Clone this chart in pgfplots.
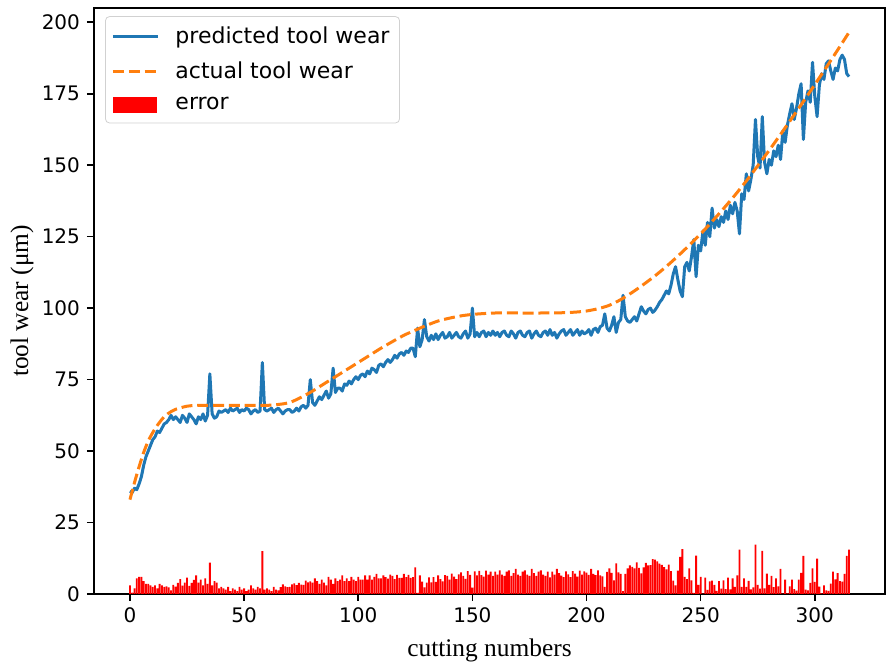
\documentclass[border=0pt]{standalone}
\usepackage{pgfplots}
\pgfplotsset{compat=1.18}
\usepackage{pgfplotstable}
\usepackage{fontspec}
\setmainfont{Liberation Serif}
\newfontfamily\dejavu{DejaVu Sans}
\definecolor{tabblue}{HTML}{1F77B4}
\definecolor{taborange}{HTML}{FF7F0E}
\pgfplotstableread{
x pred err
0 36 3
1 35.5 0.5
2 37 2
3 36.5 5.5
4 38.5 6
5 41 6
6 45 4.5
7 48 3.5
8 50 3.5
9 52 3
10 54 2.5
11 55 3
12 57 2
13 56.5 3.5
14 58 3
15 59.5 2.5
16 60 2.7
17 61 2.3
18 62.5 1.3
19 61 3.2
20 62 2.6
21 61 3.9
22 60 5.2
23 62.5 2.9
24 61.5 4
25 60 5.7
26 63 2.8
27 62 3.9
28 61 4.9
29 59.5 6.5
30 62 4
31 61 5
32 63 3
33 60.5 5.5
34 62.5 3.5
35 77 11
36 63 3
37 61.5 4.5
38 62 4
39 64 2
40 63.5 2.5
41 64 2
42 64.5 1.5
43 63.5 2.5
44 65 1
45 64 2
46 64.5 1.5
47 65 1
48 63.5 2.5
49 64.5 1.5
50 64 2
51 65 1
52 64.5 1.5
53 63 3
54 64 2
55 64.5 1.5
56 63.5 2.5
57 64 2
58 81 15
59 64.5 1.5
60 64 2
61 64.5 1.5
62 65 1
63 63.5 2.5
64 64.5 1.5
65 65 1.3
66 64 2.4
67 63 3.4
68 64 2.7
69 64.5 2.4
70 64.5 2.5
71 63.5 3.4
72 64 3.7
73 65 3.1
74 64 3.9
75 65.5 3.3
76 66 3.2
77 65 4.7
78 66 4.1
79 75 4.4
80 67 4
81 66 5.5
82 67.5 4.5
83 69 3.5
84 68 5
85 69.5 4
86 71 3
87 68.5 6
88 70 5
89 79 3.5
90 70.5 5.5
91 72 4.5
92 72 5
93 71 6.5
94 73.5 4.5
95 73 5.5
96 74.5 4.5
97 73.5 6
98 75 5
99 76 4.5
100 75 6
101 76.5 5
102 77 5
103 76 6.5
104 78 5
105 77 6.5
106 79 5
107 78.5 6
108 77.5 7
109 80 5.5
110 80.5 5.5
111 79.5 6.5
112 81 5.9
113 82 5.4
114 81 6.8
115 82 6.3
116 83.5 5.2
117 82.5 6.7
118 84 5.6
119 84.5 5.6
120 83.5 7
121 85 5.9
122 84.5 6.7
123 86 5.6
124 86 5.9
125 83 9.3
126 93 0.4
127 86.5 6.5
128 89 4.3
129 96 2.3
130 90 4
131 88.5 5.8
132 90.5 4.1
133 89 5.9
134 91 4.2
135 89 6.5
136 90.5 5.2
137 91.5 4.4
138 89.5 6.6
139 90 6.3
140 91.5 5
141 89.5 7.1
142 90.5 6.1
143 91.5 5.2
144 90 6.9
145 89.5 7.6
146 91 6.3
147 92 5.3
148 89.5 8
149 91 6.7
150 100 2.2
151 90 7.9
152 91.5 6.5
153 90 8.1
154 91.5 6.6
155 92 6.1
156 90 8.2
157 91.5 6.8
158 90.5 7.8
159 92 6.3
160 90.5 7.8
161 91.5 6.8
162 90 8.3
163 91.5 6.8
164 92 6.3
165 90.5 7.8
166 90 8.3
167 92 6.3
168 91 7.3
169 89.5 8.8
170 91.5 6.8
171 92 6.3
172 90.5 7.8
173 90 8.3
174 91.5 6.8
175 92 6.3
176 89.5 8.8
177 91 7.3
178 92 6.3
179 90.5 7.8
180 90 8.3
181 91.5 6.8
182 92 6.3
183 90.5 7.8
184 92.5 5.8
185 90.5 7.8
186 91.5 6.8
187 89.5 8.8
188 91 7.3
189 92 6.4
190 92.5 5.9
191 90.5 7.9
192 91.5 6.9
193 92.5 5.9
194 90.5 8
195 91.5 7.1
196 92.5 6.1
197 90.5 8.2
198 92 6.8
199 91 7.9
200 91.5 7.5
201 92.5 6.7
202 90.5 8.8
203 92.5 7
204 93 6.6
205 91.5 8.3
206 93.5 6.5
207 94 6.2
208 98 2.5
209 93 7.7
210 92 9
211 94 7.4
212 97 4.8
213 91.5 10.7
214 95 7.6
215 96 7
216 104.5 1
217 97 7
218 95.5 9
219 95 10
220 96 9.5
221 97 9
222 95.5 11.1
223 98 9.1
224 100.5 7.2
225 99 9.3
226 98 10.9
227 99.5 10
228 100 10.1
229 98.5 12.2
230 99.3 12
231 100.5 11.4
232 102 10.6
233 103 10.2
234 104.5 9.4
235 106 8.6
236 105 10.3
237 108 8
238 112 4.7
239 114.5 3
240 110 8.2
241 106 13
242 104 15.7
243 114.5 6
244 116 5.2
245 113 9
246 118 4.8
247 124 0.4
248 111 13.4
249 122 3.2
250 120 6
251 127 0.1
252 122 5.7
253 130 1.4
254 125 4.4
255 135 4.7
256 128 3.2
257 131 1.1
258 128.5 4.5
259 132 1.9
260 130 4.8
261 134 1.7
262 131 5.7
263 136 1.6
264 133 5.5
265 137 2.5
266 134 6.5
267 126 15.5
268 140 2.5
269 138 5.5
270 147 2.5
271 141 4.6
272 145 1.6
273 150 2.3
274 166 17.3
275 153 3.2
276 149 1.9
277 167 15.1
278 151 2
279 147 7.1
280 152 3.2
281 150 6.3
282 155 2.4
283 153 5.5
284 157 2.7
285 152 8.8
286 162 0.1
287 158 5
288 164 0.2
289 168 2.7
290 171.5 5
291 166 1.7
292 170 1.2
293 175 5
294 178.5 7.4
295 159 13.3
296 172 1.5
297 176 1.3
298 172 3.9
299 186 9
300 174 4.2
301 167 12.4
302 178 2.6
303 182 0.2
304 180 3
305 185.5 1.3
306 186.5 1.1
307 183 3.6
308 180 7.8
309 184 5.1
310 183 7.3
311 187 4.5
312 188.5 4.3
313 187 7
314 182 13.3
315 181 15.5
}\wear
\pgfplotstableread{
x act
0 33
2 39
4 44.5
6 49.5
8 53.5
10 56.5
12 59
15 62
18 63.8
20 64.6
25 65.7
30 66
40 66
50 66
60 66
65 66.3
70 67
75 68.8
80 71
85 73.5
90 76
95 78.5
100 81
105 83.5
110 86
115 88.3
120 90.5
125 92.3
130 94
135 95.5
140 96.5
145 97.3
150 97.8
155 98.1
160 98.3
170 98.3
180 98.3
190 98.4
195 98.6
200 99
205 99.8
210 101
215 103
220 105.5
225 108.3
230 111.3
235 114.6
240 118.2
245 122
250 126
255 130.3
260 134.8
265 139.5
270 144.5
275 149.8
280 155.2
285 160.8
290 166.5
295 172.3
300 178.2
305 184.2
310 190.3
315 196.5
}\actual
\begin{document}
\begin{tikzpicture}
\begin{axis}[
  scale only axis, width=395.5pt, height=293pt,
  xmin=-15.75, xmax=330.75, ymin=0, ymax=205,
  xtick={0,50,...,300}, ytick={0,25,...,200},
  tick align=outside, major tick length=3.5pt,
  xtick pos=lower, ytick pos=left,
  tick style={black, line width=0.8pt},
  axis line style={line width=0.8pt},
  /pgf/number format/assume math mode=true,
  tick label style={font=\dejavu\fontsize{10}{12}\selectfont},
  xlabel={cutting numbers}, ylabel={tool wear (μm)},
  label style={font=\fontsize{12.7}{15}\selectfont},
  xlabel style={at={(axis description cs:0.5,-0.0956)}, anchor=center},
  ylabel style={at={(axis description cs:-0.091,0.5)}, anchor=center},
  legend cell align=left,
  legend style={at={(axis description cs:0.014,0.986)}, anchor=north west,
    draw=black!18, rounded corners=2pt, fill=white,
    font=\dejavu\fontsize{11}{13}\selectfont,
    inner xsep=3pt, inner ysep=3.2pt, row sep=3.7pt,
    /tikz/every odd column/.append style={column sep=6pt}},
]
\addplot[tabblue, line width=1.5pt, line join=round,
  legend image code/.code={\draw[tabblue, line width=1.5pt, sharp corners] (0pt,0pt) -- (22.5pt,0pt);}]
  table[x=x, y=pred] {\wear};
\addlegendentry{predicted tool wear}
\addplot[taborange, line width=1.5pt, smooth, dash pattern=on 5.5pt off 2.4pt,
  legend image code/.code={\draw[taborange, line width=1.5pt, sharp corners, dash pattern=on 5.5pt off 2.4pt] (0pt,0pt) -- (22.5pt,0pt);}]
  table[x=x, y=act] {\actual};
\addlegendentry{actual tool wear}
\addplot[ybar, bar width=0.8, fill=red, draw=none,
  legend image code/.code={\fill[red, sharp corners] (0pt,-4pt) rectangle (22pt,4pt);}]
  table[x=x, y=err] {\wear};
\addlegendentry{error}
\end{axis}
\path ([shift={(-47pt,-37pt)}]current axis.south west) rectangle ([shift={(2.5pt,4pt)}]current axis.north east);
\end{tikzpicture}
\end{document}
